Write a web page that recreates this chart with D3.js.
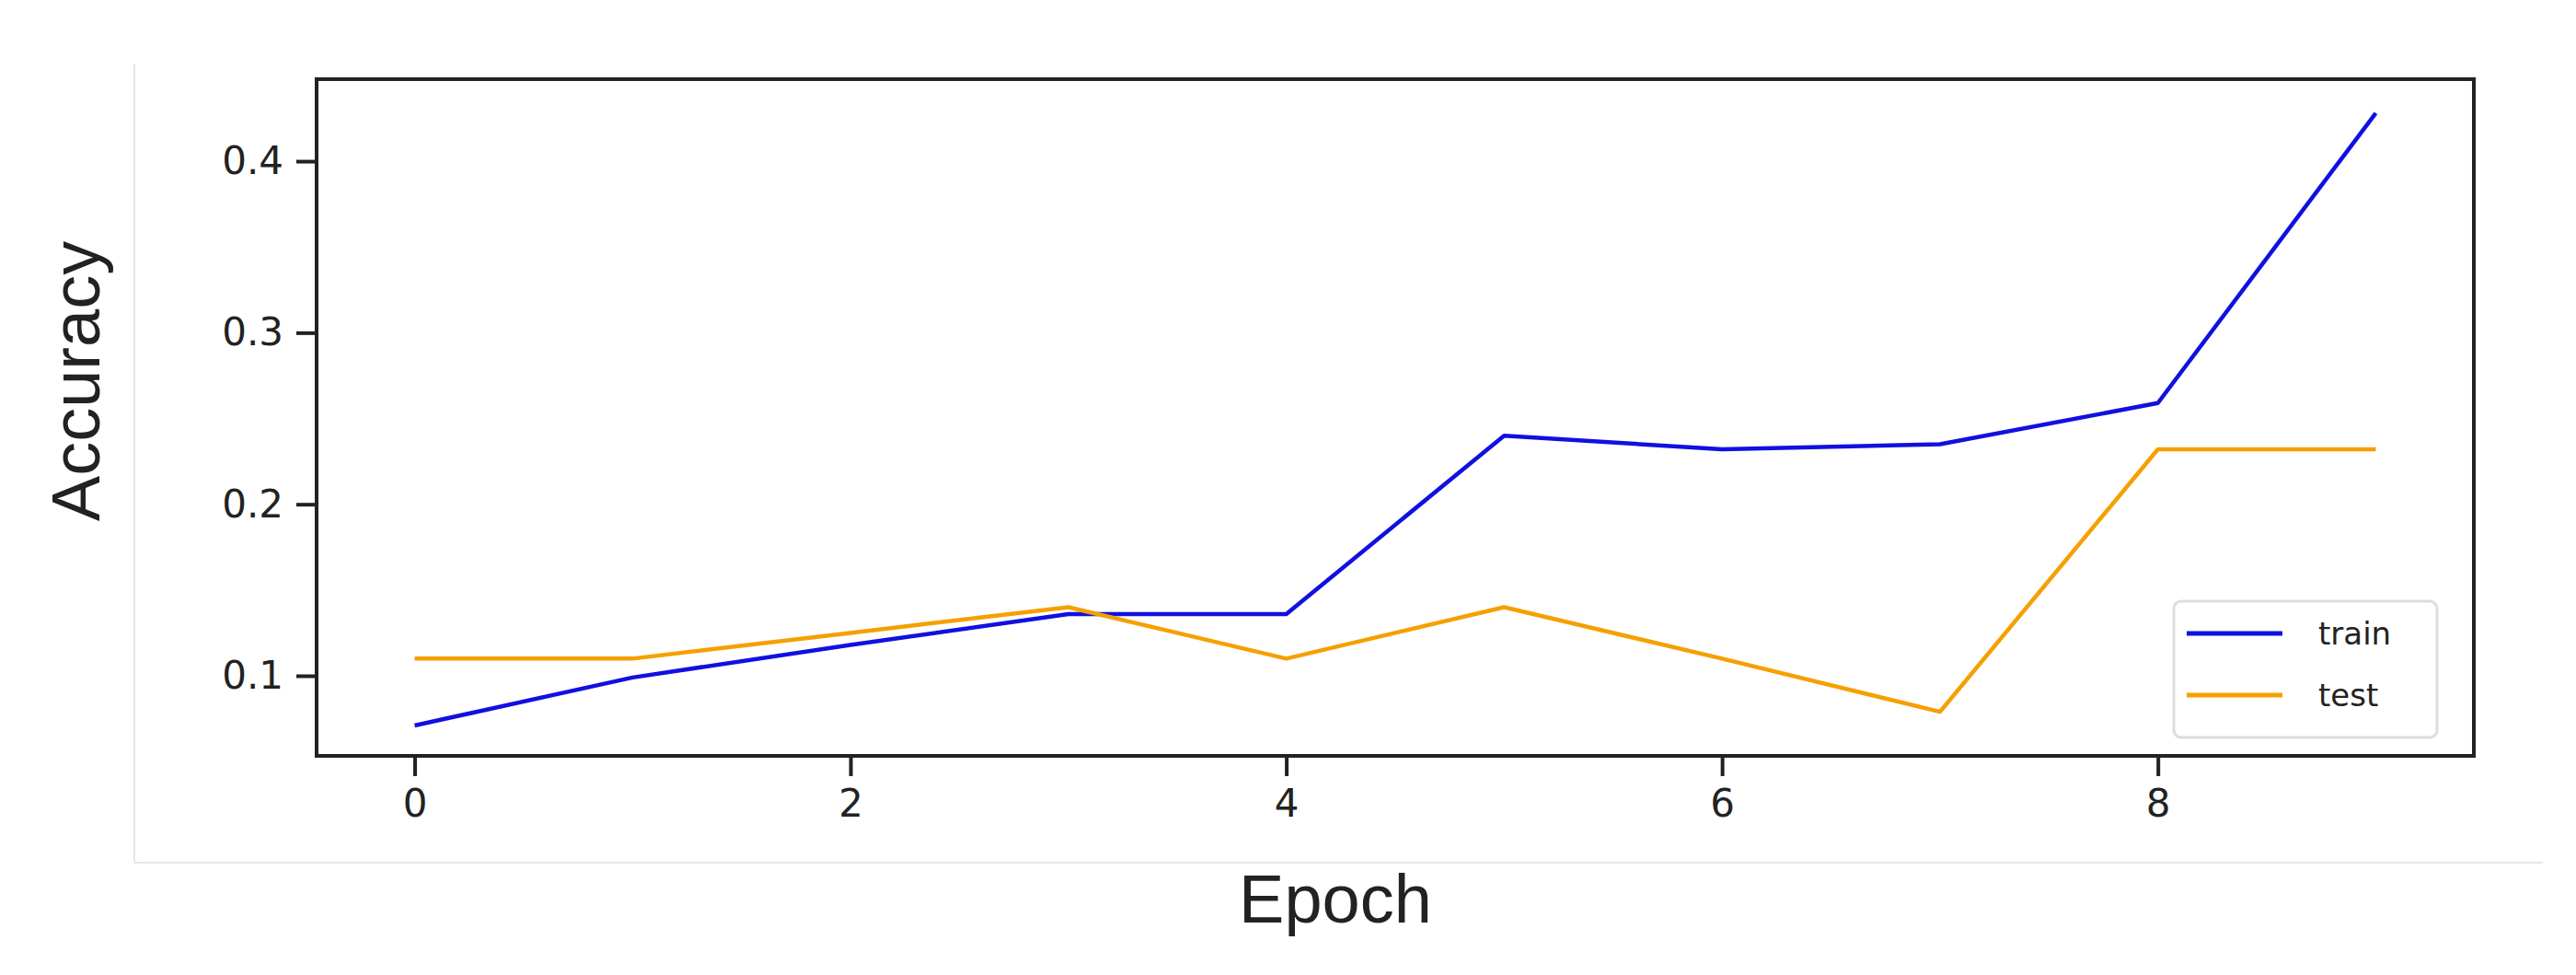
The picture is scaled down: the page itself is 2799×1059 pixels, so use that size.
<!DOCTYPE html>
<html>
<head>
<meta charset="utf-8">
<script src="https://cdn.jsdelivr.net/npm/d3@7"></script>
<style>
  body { margin: 0; background: #fff; }
  svg { display: block; }
</style>
</head>
<body>
<div id="chart"></div>
<script>
// Values
const epochs = [0, 1, 2, 3, 4, 5, 6, 7, 8, 9];
const trainAcc = [0.071, 0.099, 0.118, 0.136, 0.136, 0.240, 0.232, 0.235, 0.259, 0.428];
const testAcc = [0.110, 0.110, 0.125, 0.140, 0.110, 0.140, 0.110, 0.079, 0.232, 0.232];
const xTicks = [0, 2, 4, 6, 8];
const yTicks = [0.1, 0.2, 0.3, 0.4];
const seriesNames = ["train", "test"];
const seriesColors = ["#1010e0", "#f5a000"];

const W = 2799, H = 1059;
// plot area edges (window.top is reserved, so use other names)
const plotLeft = 344, plotRight = 2688, plotTop = 86, plotBottom = 821;

const svg = d3.select("#chart").append("svg")
    .attr("width", W)
    .attr("height", H);

// faint outer frame from the screenshot
svg.append("line").attr("x1", 146).attr("x2", 146).attr("y1", 70).attr("y2", 937)
    .attr("stroke", "#e6e6e6").attr("stroke-width", 2);
svg.append("line").attr("x1", 146).attr("x2", 2763).attr("y1", 937).attr("y2", 937)
    .attr("stroke", "#e6e6e6").attr("stroke-width", 2);

const x = d3.scaleLinear().domain([-0.45, 9.45]).range([plotLeft, plotRight]);
const y = d3.scaleLinear().domain([0.0533, 0.4478]).range([plotBottom, plotTop]);

// axes
const xAxis = d3.axisBottom(x).tickValues(xTicks).tickFormat(d3.format("d")).tickSize(22).tickPadding(14);
const yAxis = d3.axisLeft(y).tickValues(yTicks).tickFormat(d3.format(".1f")).tickSize(22).tickPadding(14);

const gx = svg.append("g").attr("transform", `translate(0,${plotBottom})`).call(xAxis);
const gy = svg.append("g").attr("transform", `translate(${plotLeft},0)`).call(yAxis);
[gx, gy].forEach(g => {
    g.select(".domain").remove();
    g.selectAll(".tick line").attr("stroke", "#222").attr("stroke-width", 4);
    g.selectAll(".tick text").attr("fill", "#222")
        .style("font-family", "DejaVu Sans").style("font-size", "42px");
});

// data lines
const line = d3.line().x((d, i) => x(epochs[i])).y(d => y(d));
[trainAcc, testAcc].forEach((vals, k) => {
    svg.append("path")
        .datum(vals)
        .attr("fill", "none")
        .attr("stroke", seriesColors[k])
        .attr("stroke-width", 4.5)
        .attr("stroke-linejoin", "round")
        .attr("d", line);
});

// plot frame
svg.append("rect")
    .attr("x", plotLeft).attr("y", plotTop)
    .attr("width", plotRight - plotLeft).attr("height", plotBottom - plotTop)
    .attr("fill", "none").attr("stroke", "#222").attr("stroke-width", 4);

// legend
const legend = svg.append("g");
legend.append("rect")
    .attr("x", 2362).attr("y", 653).attr("width", 286).attr("height", 148)
    .attr("rx", 8).attr("fill", "#fff").attr("stroke", "#dddddd").attr("stroke-width", 3);
seriesNames.forEach((name, k) => {
    const ly = 688 + k * 67;
    legend.append("line")
        .attr("x1", 2376).attr("x2", 2480).attr("y1", ly).attr("y2", ly)
        .attr("stroke", seriesColors[k]).attr("stroke-width", 5);
    legend.append("text")
        .attr("x", 2519).attr("y", ly)
        .attr("dominant-baseline", "central")
        .attr("fill", "#222")
        .style("font-family", "DejaVu Sans").style("font-size", "34px")
        .text(name);
});

// axis titles
svg.append("text")
    .attr("x", 1451).attr("y", 1002)
    .attr("text-anchor", "middle")
    .attr("fill", "#222")
    .style("font-family", "Liberation Sans").style("font-size", "74px")
    .text("Epoch");
svg.append("text")
    .attr("transform", "translate(108,414) rotate(-90)")
    .attr("text-anchor", "middle")
    .attr("fill", "#222")
    .style("font-family", "Liberation Sans").style("font-size", "74px")
    .text("Accuracy");
</script>
</body>
</html>
